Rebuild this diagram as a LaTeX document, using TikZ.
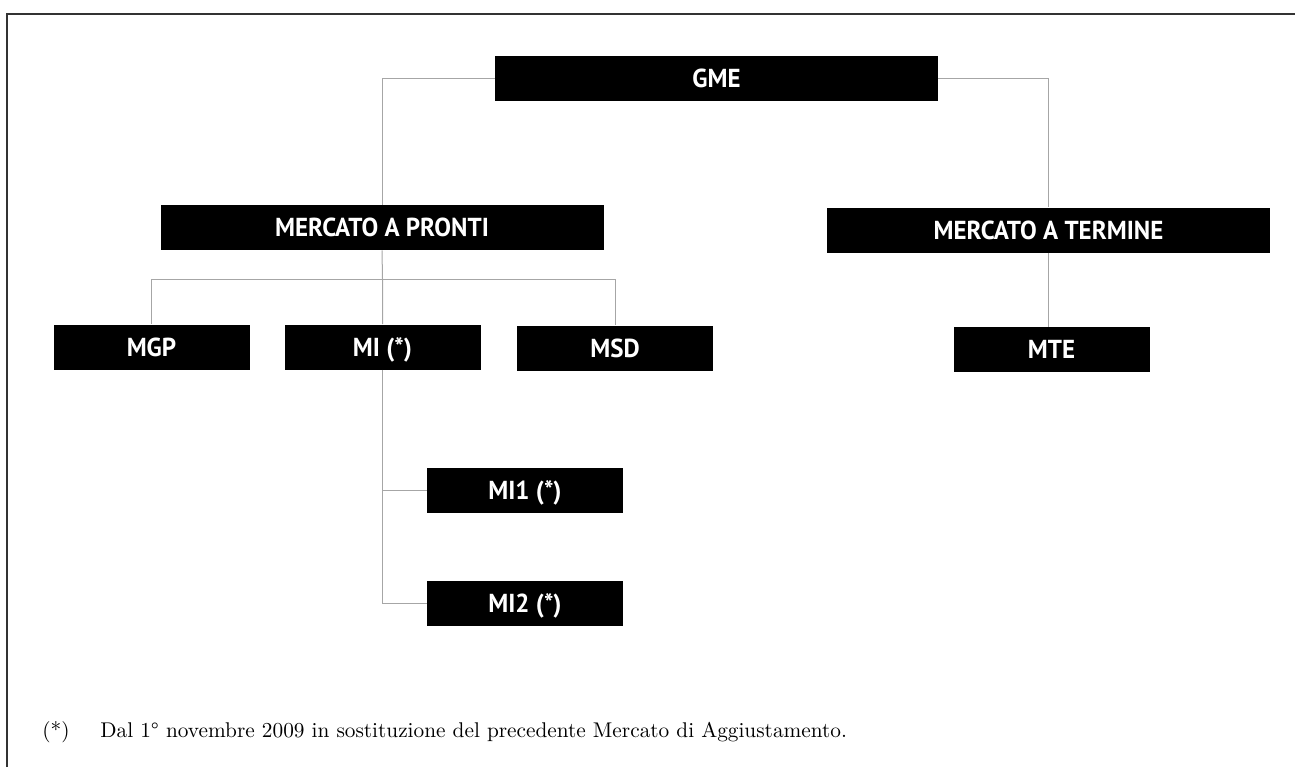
\documentclass[tikz,border=0pt]{standalone}
\usepackage{fontspec}
\newfontfamily\boxfont[FakeStretch=0.96]{PT Sans}
\begin{document}
\begin{tikzpicture}[x=0.5pt,y=-0.5pt,
                    blk/.style={fill=black,text=white,inner sep=0pt,minimum height=22.5pt,
                                text height=9.1pt,text depth=0pt,
                                font=\boxfont\bfseries\fontsize{13pt}{13pt}\selectfont},
                    wideblk/.style={blk,minimum width=221.5pt},
                    smallblk/.style={blk,minimum width=98pt},
                    link/.style={gray!70,line width=0.5pt},
                    note/.style={anchor=base west,inner sep=0pt,font=\fontsize{10.65pt}{12pt}\selectfont}]
                    \useasboundingbox (0,0) rectangle (1295,767);
                    \draw[black!80,line width=0.75pt] (7,767) -- (7,14) -- (1295,14);
                    \node[wideblk] (gme) at (716.5,78.5) {GME};
                    \node[wideblk] (pronti) at (382,227.5) {MERCATO A PRONTI};
                    \node[wideblk] (termine) at (1048.5,230) {MERCATO A TERMINE};
                    \node[smallblk] (mgp) at (151.5,347) {MGP};
                    \node[smallblk] (mi) at (382.5,347) {MI (*)};
                    \node[smallblk] (msd) at (615,348) {MSD};
                    \node[smallblk] (mte) at (1051.5,349.5) {MTE};
                    \node[smallblk] (mia) at (525,490) {MI1 (*)};
                    \node[smallblk] (mib) at (525,603) {MI2 (*)};
                    \coordinate (bus) at (382.5,279);
                    \draw[link] (gme.west) -| (pronti.north);
                    \draw[link] (gme.east) -| (termine.north);
                    \draw[link] (pronti.south) -- (bus) -- (mi.north);
                    \draw[link] (mgp.north) |- (bus) -| (msd.north);
                    \draw[link] (termine.south) -- (termine.south |- mte.north);
                    \draw[link] (mi.south) |- (mib.west);
                    \draw[link] (mi.south |- mia.west) -- (mia.west);
                    \node[note] (star) at (42,737) {(*)};
                    \node[note] (text) at (100,737)
                        {Dal 1° novembre 2009 in sostituzione del precedente Mercato di Aggiustamento.};
                \end{tikzpicture}
\end{document}
